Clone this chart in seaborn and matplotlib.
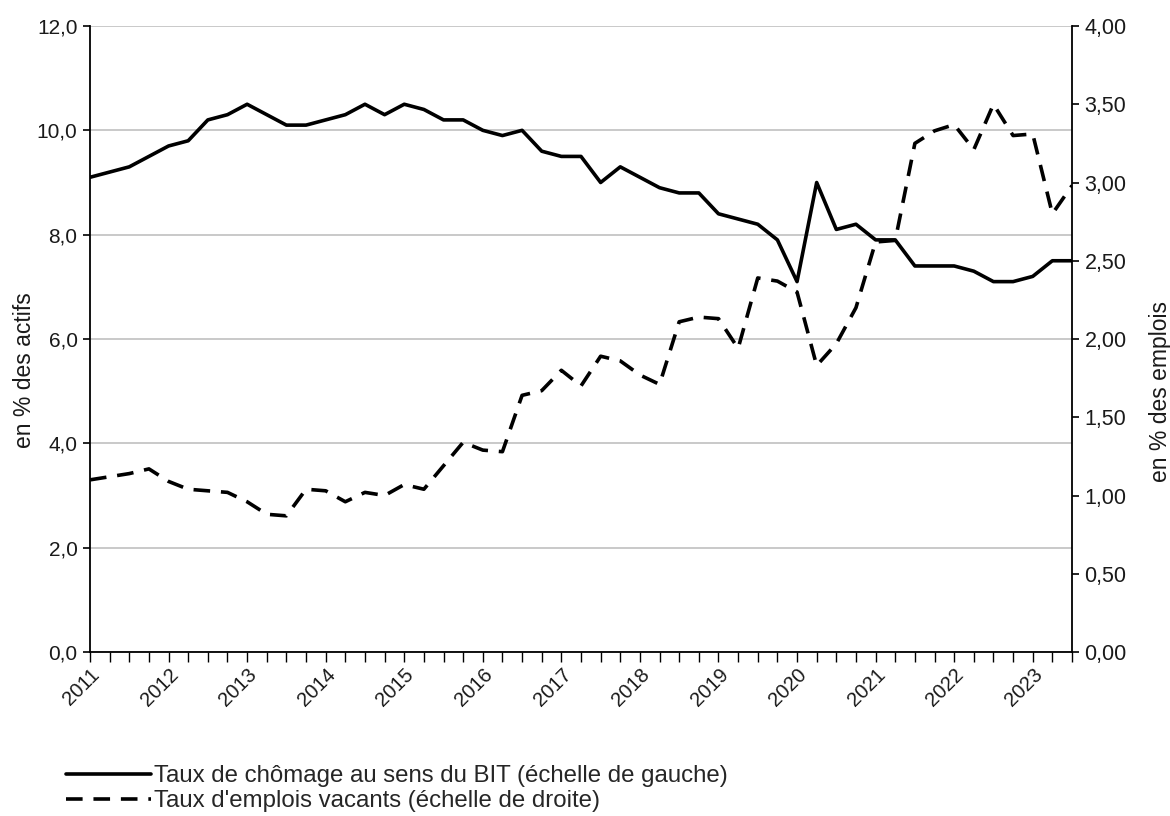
import numpy as np
import pandas as pd
import matplotlib
matplotlib.use("Agg")
import matplotlib.pyplot as plt
from matplotlib.ticker import FixedLocator, MultipleLocator
import seaborn as sns

# ---- data (quarterly, 2011Q1 .. 2023Q3) ----
years = ["2011", "2012", "2013", "2014", "2015", "2016", "2017",
         "2018", "2019", "2020", "2021", "2022", "2023"]
chomage = [9.1, 9.2, 9.3, 9.5, 9.7, 9.8, 10.2, 10.3, 10.5, 10.3,
           10.1, 10.1, 10.2, 10.3, 10.5, 10.3, 10.5, 10.4, 10.2, 10.2,
           10.0, 9.9, 10.0, 9.6, 9.5, 9.5, 9.0, 9.3, 9.1, 8.9,
           8.8, 8.8, 8.4, 8.3, 8.2, 7.9, 7.1, 9.0, 8.1, 8.2,
           7.9, 7.9, 7.4, 7.4, 7.4, 7.3, 7.1, 7.1, 7.2, 7.5, 7.5]
vacants = [1.10, 1.12, 1.14, 1.17, 1.09, 1.04, 1.03, 1.02, 0.96, 0.88,
           0.87, 1.04, 1.03, 0.96, 1.02, 1.00, 1.07, 1.04, 1.19, 1.34,
           1.29, 1.28, 1.64, 1.67, 1.80, 1.70, 1.89, 1.86, 1.77, 1.71,
           2.11, 2.14, 2.13, 1.94, 2.39, 2.37, 2.30, 1.83, 1.97, 2.20,
           2.62, 2.63, 3.25, 3.33, 3.37, 3.21, 3.50, 3.30, 3.31, 2.80, 2.98]
left_ticks = [0, 2, 4, 6, 8, 10, 12]
left_labels = ["0,0", "2,0", "4,0", "6,0", "8,0", "10,0", "12,0"]
right_ticks = [0, 0.5, 1, 1.5, 2, 2.5, 3, 3.5, 4]
right_labels = ["0,00", "0,50", "1,00", "1,50", "2,00", "2,50", "3,00", "3,50", "4,00"]
label_chomage = "Taux de chômage au sens du BIT (échelle de gauche)"
label_vacants = "Taux d'emplois vacants (échelle de droite)"
ylabel_left = "en % des actifs"
ylabel_right = "en % des emplois"

df = pd.DataFrame({"q": np.arange(len(chomage)), "chomage": chomage, "vacants": vacants})

sns.set_theme(style="white")
plt.rcParams["font.family"] = ["Liberation Sans", "DejaVu Sans"]

TXT = "#1a1a1a"
fig = plt.figure(figsize=(11.7, 8.16), dpi=100)
ax = fig.add_axes([90/1170, 1-652/816, (1072-90)/1170, (652-26)/816])
ax2 = ax.twinx()

sns.lineplot(data=df, x="q", y="chomage", ax=ax, color="black", linewidth=2.6,
             label=label_chomage, legend=False)
sns.lineplot(data=df, x="q", y="vacants", ax=ax2, color="black", linewidth=2.6,
             label=label_vacants, legend=False)
ax2.lines[0].set_dashes((4.6, 3.0))

n = len(chomage)
ax.set_xlim(0, n - 1)
ax.set_ylim(0, 12)
ax2.set_ylim(0, 4)

ax.yaxis.set_major_locator(FixedLocator(left_ticks))
ax.set_yticklabels(left_labels)
ax2.yaxis.set_major_locator(FixedLocator(right_ticks))
ax2.set_yticklabels(right_labels)

ax.xaxis.set_major_locator(FixedLocator(list(range(0, 4 * len(years), 4))))
ax.set_xticklabels(years, rotation=45, ha="right", rotation_mode="anchor")
ax.xaxis.set_minor_locator(MultipleLocator(1))

ax.grid(axis="y", color="#c0c0c0", linewidth=1.2)
ax.grid(axis="x", visible=False)
ax2.grid(False)
ax.set_axisbelow(True)

for a in (ax, ax2):
    for s in a.spines.values():
        s.set_visible(False)
ax.spines["left"].set_visible(True)
ax.spines["bottom"].set_visible(True)
ax2.spines["right"].set_visible(True)
for s in (ax.spines["left"], ax.spines["bottom"], ax2.spines["right"]):
    s.set_color("black")
    s.set_linewidth(1.3)

ax.tick_params(axis="y", which="major", left=True, length=5, width=1.2, color="black",
               labelsize=15, pad=4, labelcolor=TXT)
ax.tick_params(axis="x", which="both", bottom=True, length=7, width=1.0, color="black",
               direction="out")
ax.tick_params(axis="x", which="major", labelsize=14.5, pad=2, labelcolor=TXT)
ax2.tick_params(axis="y", which="major", right=True, length=5, width=1.2, color="black",
                labelsize=15.5, pad=4, labelcolor=TXT)

ax.set_xlabel("")
ax.set_ylabel(ylabel_left, fontsize=16.5, color=TXT)
ax2.set_ylabel(ylabel_right, fontsize=16.5, color=TXT)
ax.yaxis.set_label_coords((25 - 90) / 982, (652 - 370) / 626)
ax2.yaxis.set_label_coords((1160 - 90) / 982, (652 - 391) / 626)
ax.yaxis.label.set_va("center")
ax2.yaxis.label.set_va("center")

handles = [ax.lines[0], ax2.lines[0]]
fig.legend(handles, [label_chomage, label_vacants], loc="upper left",
           bbox_to_anchor=(66/1170, 1-765/816), frameon=False, fontsize=17.3,
           handlelength=3.55, handletextpad=0.12, labelspacing=0.14, borderaxespad=0,
           borderpad=0)

fig.savefig("out.png", dpi=100)
